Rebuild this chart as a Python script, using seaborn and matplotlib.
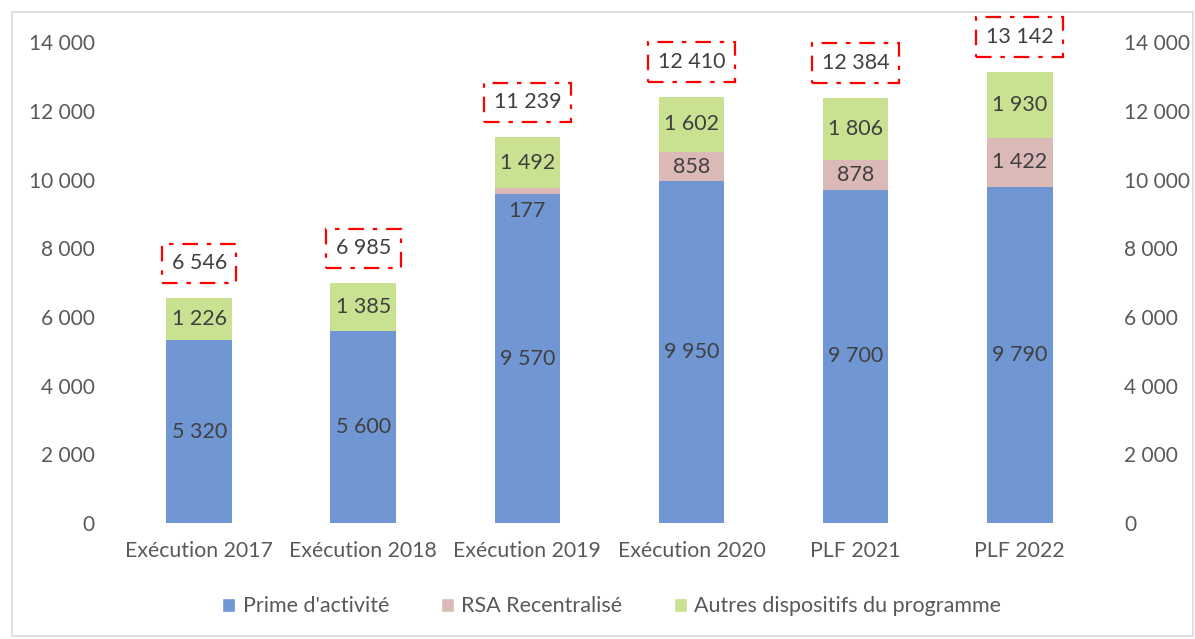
import pandas as pd
import seaborn as sns
import matplotlib.pyplot as plt
from matplotlib.patches import Rectangle, Patch

categories = ["Exécution 2017", "Exécution 2018", "Exécution 2019", "Exécution 2020", "PLF 2021", "PLF 2022"]
prime = [5320, 5600, 9570, 9950, 9700, 9790]
rsa = [0, 0, 177, 858, 878, 1422]
autres = [1226, 1385, 1492, 1602, 1806, 1930]
series_names = ["Prime d'activité", "RSA Recentralisé", "Autres dispositifs du programme"]
colors = ["#7097D3", "#DBB9B6", "#C8E291"]

def fmt(v):
    return f"{v:,}".replace(",", " ")

sns.set_style("white")
plt.rcParams["font.family"] = ["Lato", "DejaVu Sans"]

df = pd.DataFrame({"cat": categories, "prime": prime, "rsa": rsa, "autres": autres})
df["total"] = df["prime"] + df["rsa"] + df["autres"]

fig = plt.figure(figsize=(11.95, 6.39), dpi=100)
ax = fig.add_axes([0.098, 0.1815, 0.824, 0.7525])

bottoms = [[0] * len(df), list(df["prime"]), list(df["prime"] + df["rsa"])]
cols = ["prime", "rsa", "autres"]
for col, bot, c in zip(cols, bottoms, colors):
    sns.barplot(data=df, x="cat", y=col, bottom=bot, color=c, width=0.4,
                saturation=1, ax=ax, edgecolor="none")

lab_size = 15.5
# segment labels
for i in range(len(df)):
    for col, bot in zip(cols, bottoms):
        v = df[col][i]
        if v == 0:
            continue
        if v < 400:
            ax.annotate(fmt(v), (i, bot[i]), xytext=(0, -12), textcoords="offset points",
                        ha="center", va="center", fontsize=lab_size, color="#404040")
        else:
            ax.text(i, bot[i] + v / 2, fmt(v), ha="center", va="center",
                    fontsize=lab_size, color="#404040")
    ax.annotate(fmt(df["total"][i]), (i, df["total"][i]), xytext=(0, 25),
                textcoords="offset points", ha="center", va="center",
                fontsize=lab_size, color="#404040", annotation_clip=False,
                bbox=dict(boxstyle="square,pad=0.45", fc="white", ec="#FF0000",
                          ls=(0, (7, 4, 2, 4)), lw=1.6))

ax.set_ylim(0, 14000)
ax.set_xlim(-0.5, 5.5)
yt = list(range(0, 14001, 2000))
ax.set_yticks(yt)
ax.set_yticklabels([fmt(t) for t in yt])
ax.set_xlabel("")
ax.set_ylabel("")
ax.tick_params(axis="y", length=0, labelsize=15, labelcolor="#595959", pad=16)
ax.tick_params(axis="x", length=0, labelsize=15.3, labelcolor="#595959", pad=13)
for s in ax.spines.values():
    s.set_visible(False)

ax2 = ax.twinx()
ax2.set_ylim(0, 14000)
ax2.set_yticks(yt)
ax2.set_yticklabels([fmt(t) for t in yt])
ax2.tick_params(axis="y", length=0, labelsize=15, labelcolor="#595959", pad=16)
for s in ax2.spines.values():
    s.set_visible(False)

handles = [Patch(facecolor=c, label=n) for c, n in zip(colors, series_names)]
fig.legend(handles=handles, loc="center", bbox_to_anchor=(0.512, 0.051), ncol=3,
           frameon=False, fontsize=15.5, labelcolor="#595959", handlelength=0.6,
           handleheight=0.6, handletextpad=0.35, columnspacing=2.4)

fig.patches.append(Rectangle((12 / 1195, 0.005), 1 - 14 / 1195, 1 - 12 / 639 - 0.005,
                             transform=fig.transFigure, fill=False, ec="#D9D9D9", lw=1.2))

fig.savefig("out.png", dpi=100)
